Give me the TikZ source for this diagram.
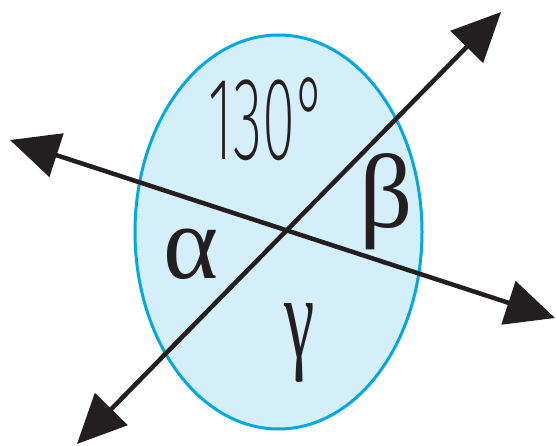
\documentclass[tikz,border=0pt]{standalone}
\usepackage{fontspec}
\setmainfont{Liberation Serif}
\newfontfamily\lightsans{Fira Sans ExtraLight}
\usetikzlibrary{arrows.meta}
\definecolor{ellfill}{RGB}{212,238,250}
\definecolor{elldraw}{RGB}{0,169,230}
\definecolor{ink}{RGB}{35,31,32}
\tikzset{
  ringshape/.style={fill=ellfill,draw=elldraw,line width=3pt},
  arrowline/.style={draw=ink,line width=4.5pt,{Triangle[length=49pt,width=45pt]}-{Triangle[length=49pt,width=45pt]}},
  greek/.style={text=ink,inner sep=0pt,anchor=base,font=\fontsize{105}{105}\selectfont},
  degree/.style={text=ink,inner sep=0pt,anchor=base,font=\fontsize{118}{118}\lightsans}
}
\begin{document}
\begin{tikzpicture}[x=1pt,y=-1pt]
\useasboundingbox (0,0) rectangle (556,446);
\draw[ringshape] (278.5,232) ellipse [x radius=143.5, y radius=197];
\coordinate (L) at (10,140);
\coordinate (R) at (555,318);
\coordinate (BL) at (77,444);
\coordinate (TR) at (501,12);
\draw[arrowline] (L) -- (R);
\draw[arrowline] (BL) -- (TR);
\node[degree] (ang) at (267.5,160) {\scalebox{0.51}[1]{130°}};
\node[greek] (alpha) at (191,278) {α};
\node[greek] (beta) at (386,228) {β};
\node[greek] (gamma) at (300,357) {\scalebox{0.65}[1.12]{γ}};
\end{tikzpicture}
\end{document}
